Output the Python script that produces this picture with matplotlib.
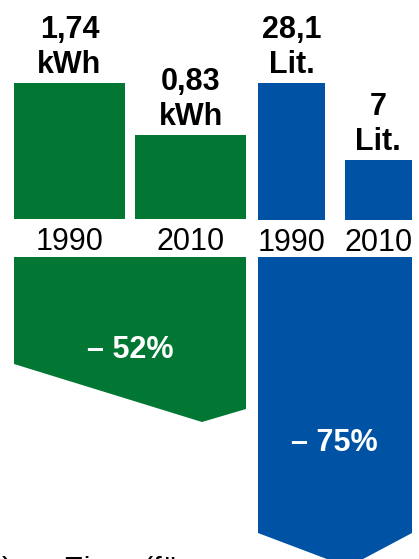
import matplotlib
matplotlib.use('Agg')
import matplotlib.pyplot as plt
from matplotlib.patches import Polygon

plt.rcParams['font.family'] = ['Liberation Sans', 'DejaVu Sans']

# data
years = ['1990', '2010']
strom_kwh = [1.74, 0.83]
strom_labels = ['1,74\nkWh', '0,83\nkWh']
sprit_lit = [28.1, 7]
sprit_labels = ['28,1\nLit.', '7\nLit.']
change_labels = ['– 52%', '– 75%']
footer = ')  –  Einer (für'

GREEN = '#027733'
BLUE = '#0052a5'
W, H = 419, 559

fig = plt.figure(figsize=(W / 100, H / 100), dpi=100)


def px_axes(x0, x1, y_top, y_bot):
    # axes placed in pixel coordinates (origin top left)
    return fig.add_axes([x0 / W, 1 - y_bot / H, (x1 - x0) / W, (y_bot - y_top) / H])


def bar_group(ax, values, labels, color, width, base, ytop):
    xs = range(len(values))
    heights = [v + base for v in values]
    bars = ax.bar(xs, heights, width=width, bottom=-base, color=color)
    ax.set_xlim(-width / 2, len(values) - 1 + width / 2)
    ax.set_ylim(-base, ytop)
    for b, lab in zip(bars, labels):
        ax.annotate(lab, (b.get_x() + b.get_width() / 2, b.get_y() + b.get_height()),
                    xytext=(0, 2), textcoords='offset points', ha='center', va='bottom',
                    fontsize=22, fontweight='bold', linespacing=1.22)
    ax.set_xticks(list(xs))
    ax.set_xticklabels(years, fontsize=22)
    ax.tick_params(axis='x', length=0, pad=6)
    ax.set_yticks([])
    for s in ax.spines.values():
        s.set_visible(False)
    ax.patch.set_alpha(0)


ax1 = px_axes(14, 246, 0, 219)
bar_group(ax1, strom_kwh, strom_labels, GREEN, 0.917, 0.64, 3.195)

ax2 = px_axes(258, 412, 0, 220)
bar_group(ax2, sprit_lit, sprit_labels, BLUE, 0.78, 9.42, 50.85)

# overlay for the reduction arrows
ov = fig.add_axes([0, 0, 1, 1])
ov.set_xlim(0, W)
ov.set_ylim(H, 0)
ov.axis('off')
ov.patch.set_alpha(0)

green_arrow = [(14, 257), (246, 257), (246, 409), (202, 422), (14, 364)]
blue_arrow = [(258, 257), (412, 257), (412, 533), (348, 567), (258, 533)]
ov.add_patch(Polygon(green_arrow, closed=True, color=GREEN, lw=0))
ov.add_patch(Polygon(blue_arrow, closed=True, color=BLUE, lw=0))

ov.text(130, 350, change_labels[0], color='white', fontsize=22, fontweight='bold',
        ha='center', va='center')
ov.text(334, 443, change_labels[1], color='white', fontsize=22, fontweight='bold',
        ha='center', va='center')

ov.text(2, 579, footer, fontsize=22, ha='left', va='baseline')

fig.savefig('out.png', dpi=100)
